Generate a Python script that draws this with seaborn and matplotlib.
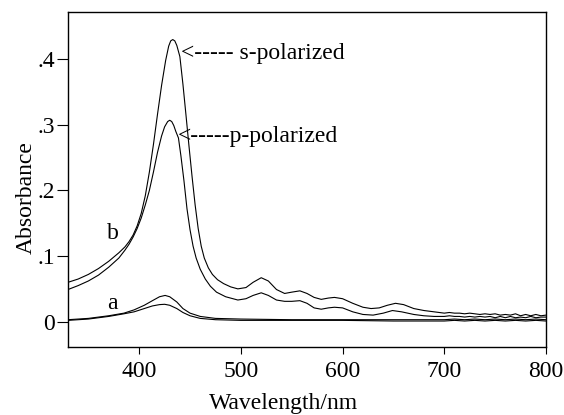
import pandas as pd
import seaborn as sns
import matplotlib
matplotlib.use("Agg")
import matplotlib.pyplot as plt

# curve b, s-polarized
sb_nm = [330, 340, 350, 360, 370, 380, 386, 390, 394, 398, 402, 406, 410, 414, 418, 422, 426, 429,
         431, 433, 435, 437, 440, 443, 446, 449, 452, 455, 458, 461, 464, 468, 472, 477, 483, 490, 497,
         505, 512, 520, 527, 535, 543, 550, 558, 565, 572, 579, 586, 592, 600, 610, 620,
         628, 636, 644, 652, 660, 670, 680, 690,
         700, 705, 710, 715, 720, 725, 730, 735, 740, 745, 750, 755, 760, 765, 770, 775, 780, 785, 790, 795, 800]
sb_abs = [0.060, 0.065, 0.072, 0.081, 0.092, 0.105, 0.114, 0.122, 0.132, 0.146, 0.165, 0.192, 0.228, 0.270, 0.316, 0.360, 0.398, 0.420,
          0.428, 0.430, 0.428, 0.421, 0.404, 0.362, 0.315, 0.267, 0.221, 0.178, 0.142, 0.115, 0.097, 0.082, 0.072, 0.064, 0.058, 0.053, 0.050,
          0.052, 0.060, 0.067, 0.062, 0.049, 0.043, 0.045, 0.047, 0.043, 0.037, 0.034, 0.036, 0.037, 0.035, 0.028, 0.022,
          0.020, 0.021, 0.025, 0.028, 0.026, 0.020, 0.017, 0.015,
          0.013, 0.014, 0.013, 0.013, 0.012, 0.013, 0.012, 0.011, 0.012, 0.011, 0.012, 0.010, 0.011, 0.010, 0.012, 0.009, 0.011, 0.009, 0.011, 0.009, 0.010]

# curve b, p-polarized
pb_nm = [330, 340, 350, 360, 370, 380, 386, 390, 394, 398, 402, 406, 410, 414, 418, 422, 425, 428,
         430, 432, 434, 436, 438.6, 441, 444, 447, 450, 453, 456, 460, 465, 470, 476, 485, 497,
         505, 512, 520, 527, 535, 543, 550, 558, 565, 572, 579, 586, 592, 600, 610, 620,
         630, 640, 649, 658, 670, 680, 690,
         700, 705, 710, 715, 720, 725, 730, 735, 740, 745, 750, 755, 760, 765, 770, 775, 780, 785, 790, 795, 800]
pb_abs = [0.049, 0.055, 0.062, 0.071, 0.083, 0.097, 0.109, 0.118, 0.129, 0.142, 0.158, 0.178, 0.200, 0.228, 0.258, 0.283, 0.297, 0.305,
          0.307, 0.305, 0.299, 0.290, 0.280, 0.253, 0.215, 0.172, 0.140, 0.115, 0.097, 0.080, 0.065, 0.054, 0.045, 0.038, 0.033,
          0.035, 0.040, 0.044, 0.040, 0.033, 0.031, 0.031, 0.032, 0.028, 0.021, 0.019, 0.021, 0.022, 0.021, 0.015, 0.011,
          0.010, 0.013, 0.017, 0.015, 0.011, 0.009, 0.008,
          0.008, 0.009, 0.008, 0.008, 0.007, 0.008, 0.007, 0.008, 0.007, 0.008, 0.006, 0.008, 0.006, 0.008, 0.006, 0.007, 0.006, 0.008, 0.006, 0.007, 0.007]

# curve a, s-polarized
sa_nm = [330, 350, 370, 385, 395, 405, 413, 420, 425.5, 430, 437, 443, 450, 460, 475, 500, 550, 600, 650,
         700, 710, 720, 730, 740, 750, 760, 770, 780, 790, 800]
sa_abs = [0.003, 0.005, 0.009, 0.013, 0.018, 0.025, 0.032, 0.038, 0.040, 0.038, 0.030, 0.020, 0.013, 0.008, 0.005,
          0.004, 0.003, 0.003, 0.003,
          0.003, 0.004, 0.003, 0.004, 0.003, 0.004, 0.003, 0.004, 0.003, 0.004, 0.003]

# curve a, p-polarized
pa_nm = [330, 350, 370, 385, 395, 405, 413, 420, 425, 430, 437, 443, 450, 460, 475, 500, 550, 600, 650,
         700, 710, 720, 730, 740, 750, 760, 770, 780, 790, 800]
pa_abs = [0.002, 0.004, 0.008, 0.012, 0.015, 0.020, 0.024, 0.026, 0.0265, 0.025, 0.020, 0.014, 0.009, 0.005, 0.003,
          0.002, 0.002, 0.002, 0.001,
          0.001, 0.002, 0.001, 0.002, 0.001, 0.002, 0.001, 0.002, 0.001, 0.002, 0.001]

x_ticks = [400, 500, 600, 700, 800]
y_ticks = [0, 0.1, 0.2, 0.3, 0.4]
y_tick_labels = ["0", ".1", ".2", ".3", ".4"]

sns.set_theme(style="white")
plt.rcParams['font.family'] = ['Liberation Serif', 'DejaVu Serif']

fig = plt.figure(figsize=(5.64, 4.15), dpi=100)
ax = fig.add_axes([68 / 564, 1 - 347 / 415, 478 / 564, 335 / 415])

for xs, ys in [(sb_nm, sb_abs), (pb_nm, pb_abs), (sa_nm, sa_abs), (pa_nm, pa_abs)]:
    df = pd.DataFrame({"nm": xs, "A": ys})
    sns.lineplot(data=df, x="nm", y="A", ax=ax, color="black", linewidth=0.8,
                 estimator=None, sort=False)

ax.set_xlim(330, 800)
ax.set_ylim(-0.0386, 0.472)
ax.set_xticks(x_ticks)
ax.set_yticks(y_ticks)
ax.set_yticklabels(y_tick_labels)
ax.tick_params(axis='x', direction='out', length=5, width=0.8, pad=5, labelsize=17, bottom=True, colors='black')
ax.tick_params(axis='y', direction='out', length=8, width=0.8, pad=1.5, labelsize=17, left=True, colors='black')
for sp in ax.spines.values():
    sp.set_visible(True)
    sp.set_color('black')
    sp.set_linewidth(1.0)

ax.set_xlabel("Wavelength/nm", fontsize=17, color='black')
ax.set_ylabel("Absorbance", fontsize=17, color='black')
ax.xaxis.set_label_coords(0.45, -0.136)
ax.yaxis.set_label_coords(-0.065, 0.446)

ax.text(441.5, 0.409, "<----- s-polarized", fontsize=17, ha='left', va='center', color='black')
ax.text(438.5, 0.282, "<-----p-polarized", fontsize=17, ha='left', va='center', color='black')
ax.text(374.5, 0.135, "b", fontsize=17, ha='center', va='center', color='black')
ax.text(374, 0.028, "a", fontsize=17, ha='center', va='center', color='black')

fig.savefig("out.png", dpi=100)
